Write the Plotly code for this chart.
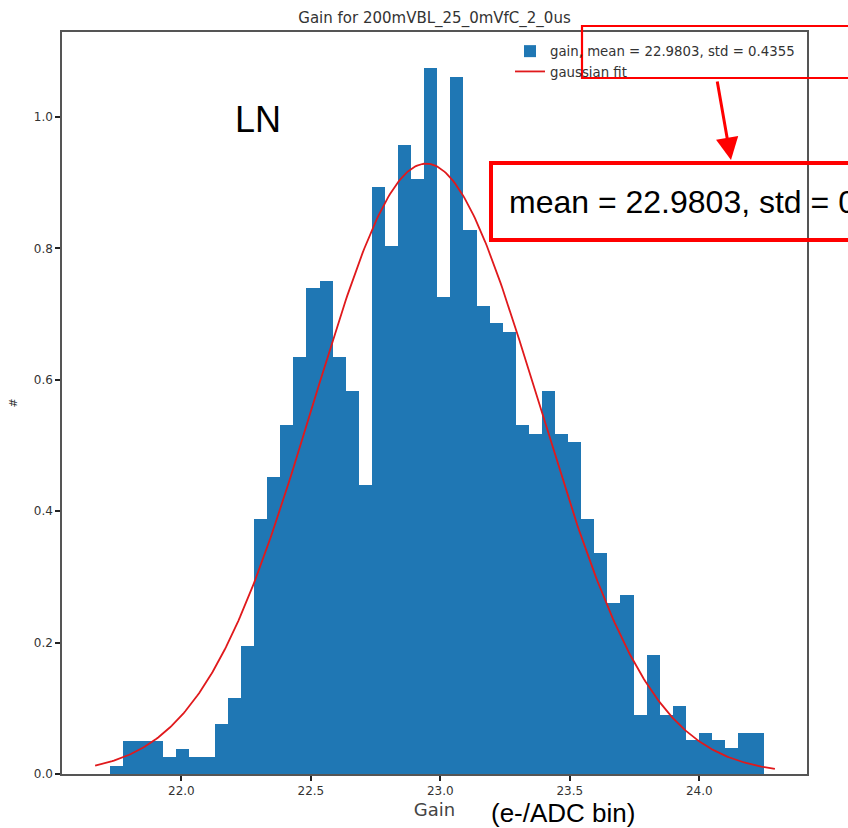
import numpy as np
import plotly.graph_objects as go

# ---- data ----
bin_start = 21.725
bin_width = 0.05053
bin_heights = [
    0.0127, 0.0507, 0.0507, 0.0507, 0.0254, 0.038, 0.0254, 0.0254, 0.076, 0.1157,
    0.195, 0.388, 0.4526, 0.531, 0.635, 0.739, 0.750, 0.635, 0.583, 0.440,
    0.894, 0.804, 0.958, 0.906, 1.074, 0.7265, 1.061, 0.828, 0.712, 0.686,
    0.673, 0.531, 0.517, 0.583, 0.517, 0.506, 0.388, 0.337, 0.260, 0.272,
    0.090, 0.181, 0.090, 0.103, 0.051, 0.063, 0.051, 0.039, 0.063, 0.063,
]
fit_amp = 0.929
fit_mu = 22.945
fit_sigma = 0.436
fit_xmin = 21.667
fit_xmax = 24.292

title_text = "Gain for 200mVBL_25_0mVfC_2_0us"
hist_label = "gain, mean = 22.9803, std = 0.4355"
fit_label = "gaussian fit"
callout_text = "mean = 22.9803, std = 0.4355"
x_ticks = [22.0, 22.5, 23.0, 23.5, 24.0]
y_ticks = [0.0, 0.2, 0.4, 0.6, 0.8, 1.0]

# ---- figure ----
W, H = 848, 828
L, R, T, B = 62, 41, 32, 54
pw, ph = W - L - R, H - T - B


def px2paper(px, py):
    return (px - L) / pw, (H - B - py) / ph


centers = bin_start + bin_width * (np.arange(len(bin_heights)) + 0.5)
xf = np.linspace(fit_xmin, fit_xmax, 400)
yf = fit_amp * np.exp(-((xf - fit_mu) ** 2) / (2 * fit_sigma ** 2))

fig = go.Figure()
fig.add_trace(go.Bar(x=centers, y=bin_heights, width=bin_width,
                     marker=dict(color="#1f77b4", line=dict(width=0)),
                     name=hist_label))
fig.add_trace(go.Scatter(x=xf, y=yf, mode="lines",
                         line=dict(color="#e0191c", width=1.8),
                         name=fit_label))

axis_common = dict(showline=True, linecolor="#555555", linewidth=1.5, mirror=True,
                   ticks="outside", ticklen=5, tickwidth=1.5, tickcolor="#222222",
                   showgrid=False, zeroline=False,
                   tickfont=dict(family="DejaVu Sans", size=12, color="#333333"))

fig.update_layout(
    width=W, height=H,
    margin=dict(l=L, r=R, t=T, b=B),
    paper_bgcolor="white", plot_bgcolor="white",
    title=dict(text=title_text, x=(L + pw / 2) / W, xanchor="center",
               y=1 - 18 / H, yanchor="middle",
               font=dict(family="DejaVu Sans", size=15, color="#333333")),
    xaxis=dict(range=[21.539, 24.416], tickvals=x_ticks, tickformat=".1f",
               title=dict(text="Gain", standoff=6,
                          font=dict(family="DejaVu Sans", size=18, color="#444444")),
               **axis_common),
    yaxis=dict(range=[0, 1.1294], tickvals=y_ticks, tickformat=".1f",
               title=dict(text="#", standoff=14,
                          font=dict(family="DejaVu Sans", size=11, color="#333333")),
               **axis_common),
    bargap=0,
    showlegend=True,
    legend=dict(x=px2paper(510, 0)[0], y=px2paper(0, 36)[1], xanchor="left", yanchor="top",
                bgcolor="rgba(0,0,0,0)",
                font=dict(family="DejaVu Sans", size=13.3, color="#333333"),
                tracegroupgap=2),
)

# red callout boxes
bx0, by0 = px2paper(582, 78)
bx1, by1 = px2paper(870, 26)
fig.add_shape(type="rect", xref="paper", yref="paper", x0=bx0, y0=by0, x1=bx1, y1=by1,
              line=dict(color="#ff0000", width=2.2), fillcolor="rgba(0,0,0,0)", layer="above")
cx0, cy0 = px2paper(491, 240)
cx1, cy1 = px2paper(870, 163)
fig.add_shape(type="rect", xref="paper", yref="paper", x0=cx0, y0=cy0, x1=cx1, y1=cy1,
              line=dict(color="#ff0000", width=4), fillcolor="rgba(0,0,0,0)", layer="above")

hx, hy = px2paper(731, 160)
fig.add_annotation(xref="paper", yref="paper", x=hx, y=hy, ax=-14, ay=-80,
                   showarrow=True, arrowhead=2, arrowsize=1.5, arrowwidth=3,
                   arrowcolor="#ff0000", text="")

tx, ty = px2paper(507, 202)
fig.add_annotation(xref="paper", yref="paper", x=tx, y=ty, xanchor="left", yanchor="middle",
                   text=callout_text, showarrow=False,
                   font=dict(family="Liberation Sans, Arial", size=32, color="black"))

lx, ly = px2paper(233, 120)
fig.add_annotation(xref="paper", yref="paper", x=lx, y=ly, xanchor="left", yanchor="middle",
                   text="LN", showarrow=False,
                   font=dict(family="Liberation Sans, Arial", size=36, color="black"))

ex, ey = px2paper(489, 813)
fig.add_annotation(xref="paper", yref="paper", x=ex, y=ey, xanchor="left", yanchor="middle",
                   text="(e-/ADC bin)", showarrow=False,
                   font=dict(family="Liberation Sans, Arial", size=26, color="black"))

fig.write_html("out.html")
